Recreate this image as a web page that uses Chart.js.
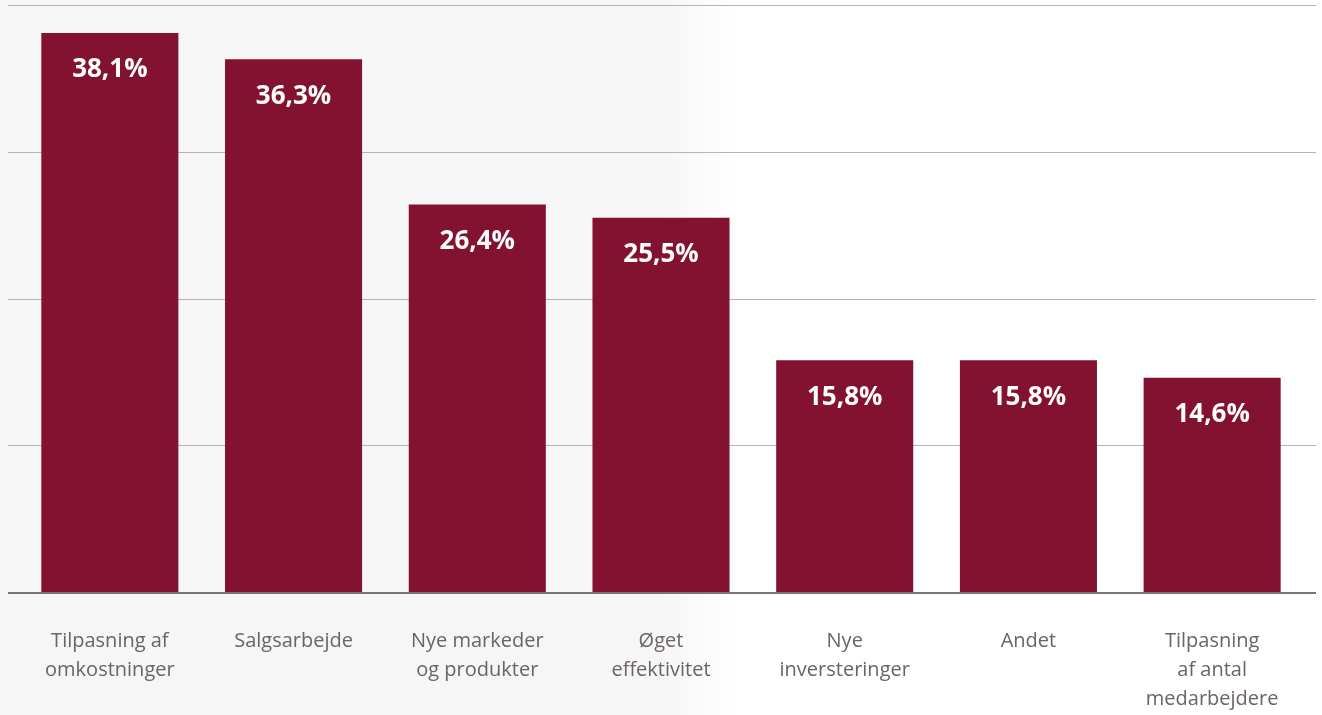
<!DOCTYPE html>
<html>
<head>
<meta charset="utf-8">
<script src="https://cdn.jsdelivr.net/npm/chart.js@4/dist/chart.umd.min.js"></script>
<style>
  html, body { margin: 0; padding: 0; background: #ffffff; }
  #wrap { width: 1322px; height: 715px; position: relative; }
</style>
</head>
<body>
<div id="wrap"><canvas id="barChart" width="1322" height="715"></canvas></div>
<script>
const kategorier = [
  ['Tilpasning af', 'omkostninger'],
  ['Salgsarbejde'],
  ['Nye markeder', 'og produkter'],
  ['Øget', 'effektivitet'],
  ['Nye', 'inversteringer'],
  ['Andet'],
  ['Tilpasning', 'af antal', 'medarbejdere']
];
const andele = [38.1, 36.3, 26.4, 25.5, 15.8, 15.8, 14.6];
const yTicks = [0, 10, 20, 30, 40];

// baggrund: lys grå til venstre, hvid til højre
const baggrund = {
  id: 'baggrund',
  beforeDraw(chart) {
    const c = chart.ctx;
    c.save();
    const g = c.createLinearGradient(0, 0, chart.width, 0);
    g.addColorStop(0, '#f6f6f6');
    g.addColorStop(0.5, '#f6f6f6');
    g.addColorStop(0.56, '#ffffff');
    g.addColorStop(1, '#ffffff');
    c.fillStyle = g;
    c.fillRect(0, 0, chart.width, chart.height);
    c.restore();
  }
};

// gitterlinjer der går lidt ud over plotområdet
const gitter = {
  id: 'gitter',
  beforeDatasetsDraw(chart) {
    const c = chart.ctx;
    const y = chart.scales.y;
    c.save();
    c.strokeStyle = '#bdb3ab';
    c.lineWidth = 1;
    yTicks.forEach(v => {
      if (v === 0) return;
      const py = Math.round(y.getPixelForValue(v)) + 0.5;
      c.beginPath();
      c.moveTo(8, py);
      c.lineTo(1316, py);
      c.stroke();
    });
    c.restore();
  },
  afterDatasetsDraw(chart) {
    const c = chart.ctx;
    const y = chart.scales.y;
    const py = Math.round(y.getPixelForValue(0)) + 1;
    c.save();
    c.strokeStyle = '#7a7572';
    c.lineWidth = 2;
    c.beginPath();
    c.moveTo(8, py);
    c.lineTo(1316, py);
    c.stroke();

    // værdier inde i søjlerne
    const meta = chart.getDatasetMeta(0);
    c.fillStyle = '#ffffff';
    c.font = 'bold 26px "Open Sans"';
    c.textAlign = 'center';
    c.textBaseline = 'middle';
    meta.data.forEach((bar, i) => {
      const txt = andele[i].toFixed(1).replace('.', ',') + '%';
      c.fillText(txt, bar.x, bar.y + 37);
    });
    c.restore();
  }
};

const ctx = document.getElementById('barChart').getContext('2d');
new Chart(ctx, {
  type: 'bar',
  data: {
    labels: kategorier,
    datasets: [{
      data: andele,
      backgroundColor: '#831230',
      borderWidth: 0,
      barPercentage: 1,
      categoryPercentage: 0.746
    }]
  },
  options: {
    responsive: false,
    animation: false,
    devicePixelRatio: 1,
    layout: { padding: { left: 18, right: 18, top: 5, bottom: 0 } },
    plugins: {
      legend: { display: false },
      tooltip: { enabled: false }
    },
    scales: {
      x: {
        grid: { display: false, drawTicks: false },
        border: { display: false },
        ticks: {
          color: '#6b6461',
          font: { family: '"Open Sans"', size: 20, lineHeight: 1.45 },
          padding: 35,
          maxRotation: 0,
          autoSkip: false
        },
        afterFit(scale) { scale.height = 123; }
      },
      y: {
        display: false,
        min: 0,
        max: 40,
        ticks: { stepSize: 10 }
      }
    }
  },
  plugins: [baggrund, gitter]
});
</script>
</body>
</html>
